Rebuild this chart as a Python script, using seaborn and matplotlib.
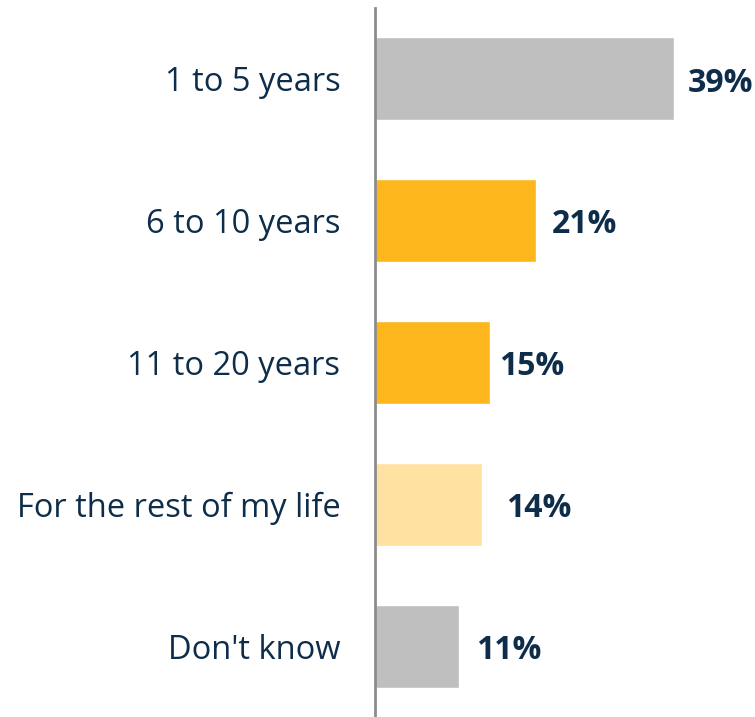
import matplotlib
matplotlib.use("Agg")
import matplotlib.pyplot as plt
import seaborn as sns
import pandas as pd

categories = ["1 to 5 years", "6 to 10 years", "11 to 20 years", "For the rest of my life", "Don't know"]
values = [39, 21, 15, 14, 11]
bar_colors = ["#BFBFBF", "#FDB71C", "#FDB71C", "#FFE1A2", "#BFBFBF"]
value_labels = ["39%", "21%", "15%", "14%", "11%"]

sns.set_theme(style="white")
plt.rcParams['font.family'] = ['Open Sans', 'DejaVu Sans']
text_color = "#0E2D4A"

df = pd.DataFrame({"category": categories, "value": values})

fig = plt.figure(figsize=(7.55, 7.17), dpi=100)
ax = fig.add_axes([375/755, 0.0, 376/755, 1 - 8/717])
sns.barplot(data=df, x="value", y="category", hue="category", palette=bar_colors,
            legend=False, width=0.585, ax=ax, saturation=1)
ax.set_xlim(0, 49)
ax.set_ylim(4.5, -0.5)
ax.set_xlabel("")
ax.set_ylabel("")
ax.set_xticks([])
for s in ["top", "right", "bottom"]:
    ax.spines[s].set_visible(False)
ax.spines["left"].set_color("#8C8C8C")
ax.spines["left"].set_linewidth(2)
ax.tick_params(axis="y", length=0, pad=25, labelsize=23.5, labelcolor=text_color)

offsets = [1.7, 2.1, 1.2, 3.1, 2.2]
for i, (v, lab) in enumerate(zip(values, value_labels)):
    ax.text(v + offsets[i], i + 0.03, lab, va="center", ha="left", fontsize=23,
            fontweight="bold", color=text_color)

fig.savefig("out.png", dpi=100)
